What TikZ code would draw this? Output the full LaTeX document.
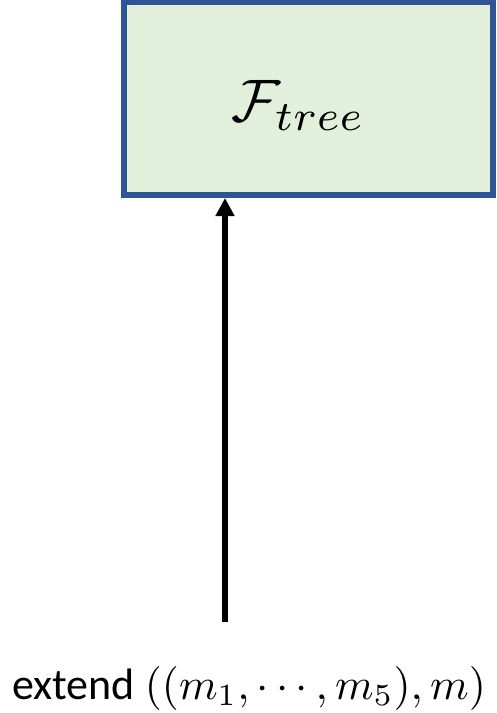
\documentclass[tikz,border=0pt]{standalone}
\usepackage{fontspec}
\setmainfont{Carlito}
\usetikzlibrary{arrows.meta}
\definecolor{boxblue}{HTML}{2F5597}
\definecolor{boxgreen}{HTML}{E2EFDA}

\begin{document}
\begin{tikzpicture}[x=1pt,y=-1pt,>={Triangle[length=18pt,width=18pt]},
  funcbox/.style={draw=boxblue,fill=boxgreen,line width=6pt,minimum width=369pt,minimum height=193pt,inner sep=0pt}]
\useasboundingbox (0,0) rectangle (497,713);
\node[funcbox] (ftree) at (308,98.5) {};
\node[scale=6,inner sep=0pt] (ftreelbl) at (298.5,105) {$\mathcal{F}_{tree}$};
\node[anchor=base,inner sep=0pt,scale=4.4] (ext) at (249,699) {extend $((m_1,\cdots,m_5),m)$};
\coordinate (src) at (225,622);

\draw[->,line width=5.5pt] (src) -- (src |- ftree.south);
\end{tikzpicture}
\end{document}
